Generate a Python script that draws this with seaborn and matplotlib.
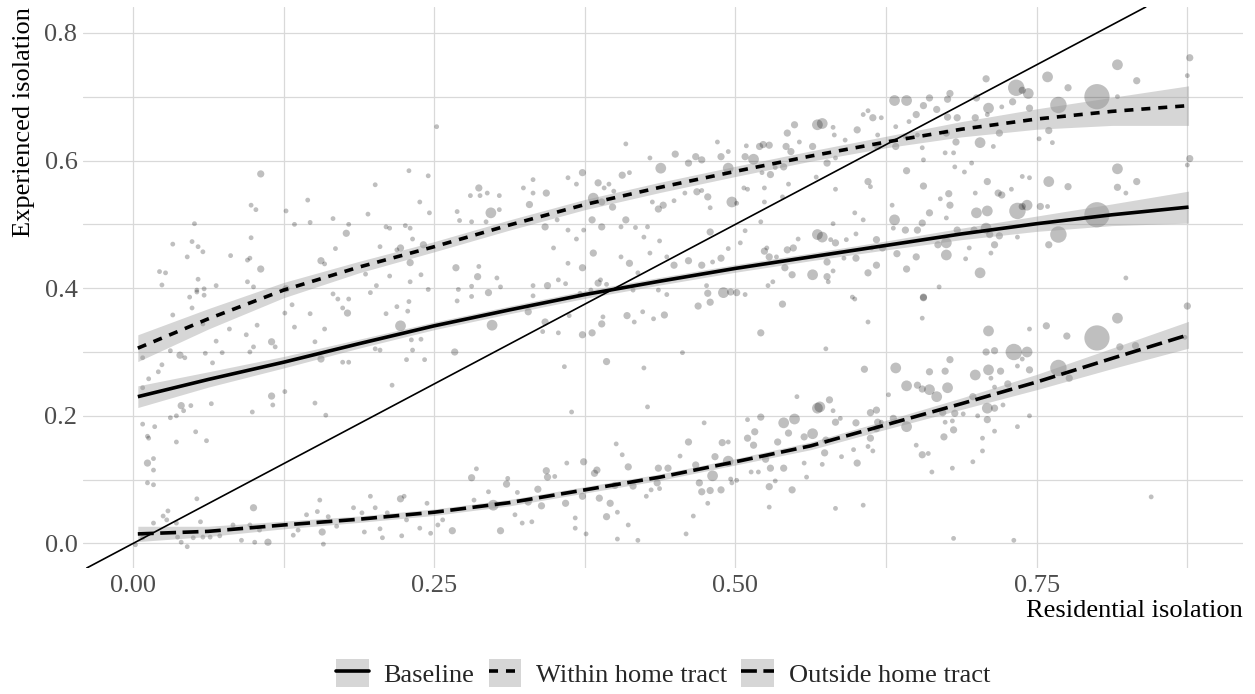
import numpy as np
import pandas as pd
import matplotlib
matplotlib.use("Agg")
import matplotlib.pyplot as plt
import seaborn as sns
from matplotlib.lines import Line2D
from matplotlib.patches import Patch

# ---------------- data ----------------
series_names = ["Baseline", "Within home tract", "Outside home tract"]
x_ticks = [0.0, 0.25, 0.5, 0.75]
x_tick_labels = ["0.00", "0.25", "0.50", "0.75"]
y_ticks = [0.0, 0.2, 0.4, 0.6, 0.8]
y_tick_labels = ["0.0", "0.2", "0.4", "0.6", "0.8"]
x_label = "Residential isolation"
y_label = "Experienced isolation"

# reference line (45 degree)
ref_intercept = 0.0
ref_slope = 1.0

# smoothed fits with confidence half-widths
fit_x = [0.004, 0.0625, 0.125, 0.1875, 0.25, 0.3125, 0.375, 0.4375, 0.5,
         0.5625, 0.625, 0.6875, 0.75, 0.8125, 0.876]
baseline_fit = [0.230, 0.257, 0.284, 0.313, 0.341, 0.366, 0.390, 0.411, 0.431,
                0.449, 0.467, 0.485, 0.501, 0.515, 0.527]
baseline_ci = [0.017, 0.012, 0.009, 0.007, 0.006, 0.006, 0.006, 0.006, 0.006,
               0.006, 0.007, 0.009, 0.012, 0.017, 0.025]
within_fit = [0.306, 0.352, 0.397, 0.433, 0.465, 0.499, 0.531, 0.558, 0.583,
              0.607, 0.629, 0.649, 0.665, 0.677, 0.686]
within_ci = [0.021, 0.016, 0.012, 0.009, 0.008, 0.008, 0.008, 0.008, 0.008,
             0.008, 0.009, 0.012, 0.016, 0.022, 0.031]
outside_fit = [0.015, 0.019, 0.029, 0.038, 0.049, 0.064, 0.084, 0.104, 0.128,
               0.153, 0.186, 0.219, 0.253, 0.290, 0.327]
outside_ci = [0.012, 0.008, 0.006, 0.005, 0.005, 0.005, 0.005, 0.005, 0.005,
              0.006, 0.007, 0.009, 0.012, 0.016, 0.021]

# tract points: (residential, experienced, weight class)
baseline_pts = [
    (0.008, 0.244, 1), (0.013, 0.258, 1), (0.008, 0.291, 1), (0.021, 0.269, 1), (0.024, 0.280, 1),
    (0.031, 0.302, 1), (0.039, 0.295, 2), (0.043, 0.291, 1), (0.060, 0.298, 1), (0.066, 0.283, 1),
    (0.069, 0.317, 1), (0.074, 0.299, 1), (0.094, 0.327, 1), (0.097, 0.300, 1), (0.100, 0.308, 1),
    (0.115, 0.316, 2), (0.118, 0.308, 1), (0.151, 0.316, 1), (0.156, 0.289, 2), (0.159, 0.336, 1),
    (0.174, 0.284, 1), (0.179, 0.284, 1), (0.201, 0.305, 1), (0.205, 0.303, 1), (0.210, 0.360, 1),
    (0.215, 0.248, 1), (0.219, 0.371, 1), (0.222, 0.341, 3), (0.229, 0.379, 1), (0.227, 0.288, 1),
    (0.231, 0.319, 1), (0.232, 0.303, 1),
    (0.008, 0.187, 1), (0.018, 0.183, 1), (0.012, 0.168, 1), (0.013, 0.165, 1), (0.012, 0.126, 2),
    (0.017, 0.133, 1), (0.017, 0.115, 1), (0.012, 0.095, 1), (0.017, 0.092, 1), (0.036, 0.159, 1),
    (0.031, 0.197, 1), (0.036, 0.200, 1), (0.040, 0.216, 2), (0.042, 0.208, 1), (0.048, 0.216, 1),
    (0.052, 0.175, 1), (0.061, 0.161, 1), (0.065, 0.219, 1), (0.099, 0.206, 1), (0.115, 0.231, 2),
    (0.116, 0.217, 1), (0.126, 0.238, 1), (0.151, 0.220, 1), (0.160, 0.201, 1),
    (0.286, 0.418, 2), (0.302, 0.416, 1), (0.245, 0.398, 1), (0.270, 0.398, 1), (0.281, 0.403, 1),
    (0.295, 0.393, 2), (0.305, 0.402, 1), (0.361, 0.439, 1), (0.373, 0.432, 2), (0.405, 0.449, 1),
    (0.412, 0.439, 2), (0.437, 0.474, 1), (0.429, 0.455, 1), (0.443, 0.449, 1), (0.449, 0.436, 2),
    (0.461, 0.443, 2), (0.472, 0.436, 2), (0.479, 0.488, 2), (0.481, 0.441, 1), (0.488, 0.447, 2),
    (0.494, 0.462, 1), (0.521, 0.504, 1), (0.508, 0.490, 1), (0.504, 0.471, 1),
    (0.524, 0.458, 2), (0.528, 0.449, 2), (0.526, 0.463, 1), (0.534, 0.449, 1), (0.543, 0.460, 2),
    (0.552, 0.477, 1), (0.548, 0.463, 2), (0.541, 0.432, 2), (0.547, 0.421, 2), (0.564, 0.421, 3),
    (0.568, 0.484, 3), (0.527, 0.404, 1), (0.531, 0.410, 1), (0.490, 0.393, 3), (0.496, 0.394, 2),
    (0.501, 0.393, 2), (0.508, 0.390, 1), (0.476, 0.404, 1), (0.477, 0.392, 2), (0.436, 0.397, 1),
    (0.443, 0.390, 1), (0.419, 0.424, 1), (0.415, 0.397, 1), (0.386, 0.408, 2), (0.393, 0.406, 1),
    (0.388, 0.413, 1), (0.380, 0.397, 1), (0.371, 0.392, 1), (0.359, 0.407, 1), (0.353, 0.413, 1),
    (0.344, 0.404, 2), (0.332, 0.404, 1), (0.332, 0.388, 1),
    (0.298, 0.342, 3), (0.267, 0.300, 2), (0.242, 0.288, 1), (0.228, 0.364, 1), (0.239, 0.320, 1),
    (0.269, 0.380, 1), (0.281, 0.387, 1), (0.328, 0.363, 2), (0.342, 0.347, 2), (0.340, 0.332, 1),
    (0.353, 0.330, 1), (0.358, 0.277, 1), (0.364, 0.206, 1), (0.362, 0.357, 1), (0.373, 0.327, 2),
    (0.381, 0.330, 2), (0.389, 0.344, 2), (0.390, 0.355, 1), (0.393, 0.285, 2), (0.410, 0.357, 2),
    (0.416, 0.347, 1), (0.423, 0.363, 1), (0.432, 0.352, 1), (0.441, 0.358, 2), (0.424, 0.275, 1),
    (0.427, 0.214, 1), (0.456, 0.299, 1), (0.469, 0.372, 2), (0.479, 0.378, 2), (0.521, 0.330, 2),
    (0.539, 0.375, 2),
    (0.817, 0.587, 3), (0.877, 0.603, 2), (0.875, 0.593, 1), (0.833, 0.567, 2), (0.817, 0.558, 2),
    (0.824, 0.549, 1), (0.800, 0.515, 5), (0.776, 0.559, 2), (0.768, 0.484, 4), (0.760, 0.567, 3),
    (0.760, 0.468, 2), (0.753, 0.528, 2), (0.759, 0.528, 1), (0.742, 0.530, 3), (0.734, 0.521, 4),
    (0.738, 0.528, 2), (0.744, 0.573, 1), (0.738, 0.575, 1), (0.729, 0.555, 1), (0.721, 0.546, 2),
    (0.718, 0.549, 2), (0.709, 0.521, 3), (0.700, 0.518, 3), (0.709, 0.567, 2), (0.699, 0.549, 1),
    (0.708, 0.494, 3), (0.711, 0.484, 2), (0.719, 0.482, 2), (0.715, 0.468, 2), (0.712, 0.455, 1),
    (0.703, 0.424, 3), (0.694, 0.463, 1), (0.691, 0.446, 1), (0.698, 0.491, 2), (0.684, 0.491, 2),
    (0.678, 0.530, 2), (0.677, 0.548, 2), (0.670, 0.540, 1), (0.675, 0.510, 1), (0.675, 0.452, 3),
    (0.675, 0.471, 3), (0.668, 0.468, 2), (0.669, 0.402, 1), (0.661, 0.518, 2), (0.655, 0.502, 2),
    (0.656, 0.560, 2), (0.651, 0.491, 2), (0.650, 0.449, 2), (0.656, 0.386, 2), (0.642, 0.430, 2),
    (0.641, 0.491, 2), (0.634, 0.454, 2), (0.632, 0.507, 3), (0.630, 0.530, 1), (0.631, 0.494, 1),
    (0.622, 0.463, 2), (0.617, 0.476, 2), (0.617, 0.436, 2), (0.610, 0.424, 2), (0.613, 0.463, 1),
    (0.606, 0.507, 1), (0.600, 0.485, 1), (0.599, 0.518, 1), (0.600, 0.447, 2), (0.597, 0.386, 1),
    (0.592, 0.476, 1), (0.590, 0.447, 1), (0.583, 0.471, 2), (0.581, 0.427, 1), (0.576, 0.441, 2),
    (0.576, 0.418, 2), (0.577, 0.410, 1), (0.572, 0.480, 3), (0.581, 0.501, 1), (0.579, 0.476, 1),
    (0.734, 0.480, 1), (0.824, 0.416, 1),
]

within_pts = [
    (0.033, 0.358, 1), (0.047, 0.386, 1), (0.053, 0.394, 1), (0.049, 0.369, 1), (0.058, 0.344, 1),
    (0.080, 0.336, 1), (0.103, 0.342, 1), (0.126, 0.361, 1), (0.132, 0.374, 1), (0.134, 0.339, 1),
    (0.147, 0.360, 1), (0.166, 0.391, 1), (0.170, 0.383, 1), (0.174, 0.369, 1), (0.178, 0.361, 2),
    (0.179, 0.383, 1), (0.197, 0.393, 1),
    (0.106, 0.579, 2), (0.098, 0.530, 1), (0.102, 0.523, 1), (0.127, 0.521, 1), (0.145, 0.538, 1),
    (0.134, 0.500, 1), (0.147, 0.503, 1), (0.166, 0.509, 1), (0.177, 0.486, 2), (0.179, 0.500, 1),
    (0.195, 0.516, 1), (0.201, 0.562, 1), (0.210, 0.496, 1), (0.213, 0.494, 1), (0.226, 0.498, 1),
    (0.229, 0.584, 1), (0.230, 0.494, 1), (0.222, 0.463, 2), (0.219, 0.460, 1), (0.205, 0.465, 1),
    (0.168, 0.462, 1), (0.156, 0.443, 2), (0.159, 0.438, 1), (0.051, 0.501, 1), (0.033, 0.469, 1),
    (0.049, 0.473, 1), (0.054, 0.465, 1), (0.058, 0.457, 1), (0.045, 0.449, 1), (0.098, 0.479, 1),
    (0.095, 0.444, 1), (0.097, 0.447, 1), (0.081, 0.451, 1), (0.106, 0.430, 2), (0.022, 0.426, 1),
    (0.027, 0.424, 1), (0.024, 0.405, 1), (0.054, 0.414, 1), (0.053, 0.397, 1), (0.059, 0.399, 1),
    (0.059, 0.389, 1), (0.069, 0.404, 1), (0.095, 0.410, 1), (0.100, 0.402, 1), (0.127, 0.399, 2),
    (0.202, 0.404, 1), (0.193, 0.422, 1), (0.213, 0.419, 1), (0.230, 0.410, 1), (0.232, 0.477, 1),
    (0.238, 0.535, 1),
    (0.252, 0.653, 1), (0.245, 0.576, 1), (0.246, 0.518, 1), (0.241, 0.468, 2), (0.230, 0.440, 2),
    (0.268, 0.432, 2), (0.287, 0.434, 1), (0.239, 0.421, 1), (0.287, 0.557, 2), (0.280, 0.545, 1),
    (0.288, 0.545, 1), (0.294, 0.549, 1), (0.304, 0.545, 1), (0.269, 0.520, 1), (0.271, 0.506, 1),
    (0.281, 0.504, 1), (0.293, 0.504, 1), (0.297, 0.518, 3), (0.304, 0.523, 1), (0.324, 0.557, 1),
    (0.332, 0.570, 1), (0.332, 0.549, 1), (0.343, 0.549, 2), (0.329, 0.531, 2), (0.342, 0.496, 2),
    (0.349, 0.463, 1), (0.352, 0.507, 1), (0.361, 0.573, 1), (0.368, 0.563, 1), (0.373, 0.581, 2),
    (0.381, 0.507, 2), (0.361, 0.491, 1), (0.368, 0.477, 1), (0.374, 0.491, 1), (0.382, 0.455, 2),
    (0.386, 0.565, 2), (0.391, 0.557, 1), (0.395, 0.563, 1), (0.399, 0.552, 1), (0.382, 0.541, 3),
    (0.389, 0.535, 2), (0.398, 0.527, 2), (0.406, 0.577, 2), (0.412, 0.581, 1), (0.409, 0.626, 1),
    (0.389, 0.496, 2), (0.405, 0.496, 1), (0.409, 0.507, 2), (0.417, 0.495, 1), (0.424, 0.480, 1),
    (0.429, 0.604, 1), (0.438, 0.588, 3), (0.450, 0.610, 2), (0.431, 0.535, 1), (0.436, 0.524, 2),
    (0.440, 0.530, 2), (0.449, 0.537, 1), (0.427, 0.496, 1), (0.467, 0.606, 2), (0.472, 0.601, 2),
    (0.461, 0.596, 2), (0.458, 0.549, 1), (0.468, 0.551, 2), (0.472, 0.553, 1), (0.477, 0.543, 2),
    (0.479, 0.526, 1), (0.485, 0.629, 1), (0.488, 0.606, 2), (0.494, 0.588, 3), (0.494, 0.614, 1),
    (0.497, 0.535, 3), (0.501, 0.533, 1), (0.508, 0.606, 2), (0.509, 0.623, 1), (0.515, 0.602, 3),
    (0.520, 0.622, 2), (0.523, 0.625, 2), (0.528, 0.624, 2), (0.522, 0.581, 1), (0.529, 0.578, 2),
    (0.533, 0.589, 1), (0.507, 0.557, 1), (0.510, 0.555, 1), (0.524, 0.557, 1), (0.524, 0.535, 1),
    (0.543, 0.643, 2), (0.549, 0.656, 2), (0.542, 0.622, 2), (0.546, 0.614, 2), (0.553, 0.629, 1),
    (0.564, 0.622, 2), (0.568, 0.656, 3), (0.540, 0.590, 2), (0.544, 0.563, 1), (0.539, 0.543, 1),
    (0.567, 0.574, 1),
    (0.817, 0.750, 3), (0.877, 0.761, 2), (0.875, 0.733, 1), (0.833, 0.725, 2), (0.817, 0.700, 1),
    (0.800, 0.700, 5), (0.776, 0.714, 2), (0.768, 0.687, 4), (0.759, 0.731, 3), (0.752, 0.634, 1),
    (0.760, 0.647, 2), (0.763, 0.628, 1), (0.744, 0.682, 2), (0.743, 0.705, 3), (0.733, 0.714, 4),
    (0.738, 0.710, 2), (0.730, 0.692, 2), (0.721, 0.684, 1), (0.719, 0.643, 2), (0.714, 0.622, 1),
    (0.708, 0.728, 2), (0.710, 0.682, 3), (0.709, 0.672, 1), (0.703, 0.628, 3), (0.699, 0.667, 2),
    (0.700, 0.698, 2), (0.684, 0.667, 2), (0.678, 0.705, 2), (0.676, 0.696, 2), (0.676, 0.668, 2),
    (0.675, 0.643, 2), (0.683, 0.629, 2), (0.674, 0.612, 1), (0.681, 0.612, 1), (0.667, 0.680, 2),
    (0.661, 0.698, 2), (0.656, 0.686, 2), (0.650, 0.672, 2), (0.642, 0.694, 3), (0.632, 0.694, 3),
    (0.644, 0.661, 1), (0.633, 0.653, 1), (0.633, 0.622, 2), (0.641, 0.637, 1), (0.651, 0.640, 1),
    (0.655, 0.620, 1), (0.618, 0.640, 1), (0.618, 0.622, 2), (0.614, 0.667, 2), (0.621, 0.667, 1),
    (0.606, 0.672, 1), (0.610, 0.678, 1), (0.601, 0.648, 2), (0.591, 0.632, 1), (0.582, 0.640, 1),
    (0.581, 0.652, 1), (0.572, 0.658, 3), (0.576, 0.596, 2), (0.583, 0.604, 1), (0.642, 0.584, 2),
    (0.656, 0.601, 1), (0.682, 0.590, 1), (0.690, 0.582, 1), (0.696, 0.596, 1), (0.610, 0.567, 2),
    (0.612, 0.559, 1), (0.583, 0.555, 1),
]

outside_pts = [
    (0.002, -0.002, 1), (0.008, 0.009, 1), (0.017, 0.032, 1), (0.025, 0.043, 1), (0.029, 0.051, 1),
    (0.028, 0.037, 1), (0.036, 0.032, 1), (0.037, 0.010, 1), (0.040, 0.002, 1), (0.045, -0.005, 1),
    (0.050, 0.009, 1), (0.053, 0.070, 1), (0.056, 0.034, 1), (0.058, 0.010, 1), (0.064, 0.010, 1),
    (0.072, 0.012, 1), (0.083, 0.029, 1), (0.090, 0.005, 1), (0.097, 0.029, 1), (0.100, 0.056, 2),
    (0.101, 0.002, 1), (0.112, 0.002, 2), (0.105, 0.021, 1), (0.133, 0.013, 1), (0.137, 0.021, 1),
    (0.144, 0.045, 1), (0.153, 0.050, 1), (0.155, 0.068, 1), (0.157, 0.018, 2), (0.158, -0.001, 1),
    (0.162, 0.042, 1), (0.169, 0.027, 1), (0.183, 0.056, 1), (0.190, 0.048, 1), (0.192, 0.018, 1),
    (0.197, 0.074, 1), (0.201, 0.056, 1), (0.205, 0.023, 1), (0.207, 0.009, 1), (0.211, 0.048, 1),
    (0.222, 0.070, 2), (0.225, 0.074, 1), (0.223, 0.012, 1), (0.227, 0.037, 1),
    (0.238, 0.024, 1), (0.247, 0.016, 1), (0.244, 0.063, 1), (0.257, 0.037, 1), (0.265, 0.020, 2),
    (0.253, 0.029, 1), (0.283, 0.068, 1), (0.281, 0.103, 2), (0.285, 0.117, 1), (0.295, 0.081, 1),
    (0.299, 0.060, 3), (0.305, 0.020, 2), (0.310, 0.093, 2), (0.311, 0.102, 1), (0.317, 0.045, 1),
    (0.319, 0.080, 1), (0.323, 0.032, 1), (0.331, 0.034, 1), (0.328, 0.065, 2), (0.336, 0.085, 2),
    (0.343, 0.114, 2), (0.344, 0.104, 2), (0.339, 0.059, 2), (0.350, 0.105, 1), (0.359, 0.063, 2),
    (0.360, 0.126, 1), (0.367, 0.040, 1), (0.367, 0.024, 1), (0.373, 0.074, 2), (0.374, 0.128, 2),
    (0.376, 0.015, 1), (0.383, 0.110, 2), (0.385, 0.115, 2), (0.387, 0.071, 2), (0.393, 0.042, 2),
    (0.396, 0.063, 2), (0.401, 0.156, 1), (0.402, 0.049, 1), (0.402, 0.007, 1), (0.400, 0.091, 2),
    (0.406, 0.139, 1), (0.411, 0.120, 2), (0.411, 0.029, 1), (0.415, 0.090, 2), (0.419, 0.005, 1),
    (0.426, 0.074, 1), (0.430, 0.084, 1), (0.435, 0.095, 2), (0.436, 0.118, 2), (0.437, 0.086, 1),
    (0.444, 0.118, 2), (0.454, 0.137, 1), (0.459, 0.015, 1), (0.461, 0.159, 2), (0.465, 0.043, 1),
    (0.467, 0.123, 2), (0.470, 0.095, 2), (0.472, 0.081, 2), (0.474, 0.189, 1), (0.477, 0.063, 1),
    (0.479, 0.083, 2), (0.481, 0.106, 3), (0.483, 0.136, 2), (0.488, 0.084, 2), (0.489, 0.158, 2),
    (0.494, 0.159, 1), (0.494, 0.129, 3), (0.496, 0.101, 1), (0.497, 0.095, 1), (0.501, 0.099, 1),
    (0.510, 0.194, 1), (0.510, 0.165, 2), (0.513, 0.112, 1), (0.515, 0.154, 2), (0.516, 0.175, 2),
    (0.521, 0.198, 2), (0.519, 0.112, 1), (0.525, 0.132, 2), (0.528, 0.089, 2), (0.528, 0.057, 1),
    (0.529, 0.118, 2), (0.533, 0.098, 1), (0.535, 0.159, 2), (0.540, 0.189, 3), (0.540, 0.118, 2),
    (0.544, 0.173, 2), (0.547, 0.084, 2), (0.549, 0.195, 3), (0.551, 0.230, 1), (0.557, 0.167, 2),
    (0.557, 0.126, 1), (0.559, 0.104, 1), (0.564, 0.172, 3), (0.568, 0.212, 3),
    (0.875, 0.372, 2), (0.873, 0.323, 1), (0.817, 0.353, 3), (0.800, 0.322, 5), (0.832, 0.310, 2),
    (0.819, 0.308, 2), (0.775, 0.325, 2), (0.758, 0.341, 2), (0.768, 0.275, 4), (0.777, 0.259, 2),
    (0.744, 0.336, 1), (0.742, 0.300, 3), (0.731, 0.300, 4), (0.738, 0.289, 1), (0.734, 0.278, 1),
    (0.744, 0.272, 2), (0.744, 0.200, 1), (0.734, 0.183, 1), (0.726, 0.250, 2), (0.720, 0.270, 2),
    (0.722, 0.217, 1), (0.715, 0.245, 1), (0.715, 0.176, 1), (0.710, 0.333, 3), (0.708, 0.300, 2),
    (0.715, 0.302, 2), (0.710, 0.272, 3), (0.699, 0.264, 3), (0.712, 0.259, 1), (0.709, 0.212, 3),
    (0.715, 0.212, 2), (0.709, 0.194, 2), (0.705, 0.165, 1), (0.705, 0.145, 1), (0.697, 0.128, 1),
    (0.701, 0.200, 1), (0.697, 0.230, 2), (0.678, 0.288, 2), (0.674, 0.270, 2), (0.676, 0.244, 3),
    (0.667, 0.230, 3), (0.661, 0.241, 3), (0.655, 0.242, 2), (0.651, 0.248, 2), (0.642, 0.247, 3),
    (0.633, 0.275, 3), (0.661, 0.269, 2), (0.656, 0.385, 2), (0.655, 0.353, 1), (0.610, 0.347, 1),
    (0.599, 0.383, 1), (0.575, 0.305, 1), (0.607, 0.273, 2), (0.627, 0.233, 1), (0.578, 0.225, 2),
    (0.570, 0.214, 3), (0.581, 0.208, 1), (0.583, 0.190, 2), (0.587, 0.196, 1), (0.600, 0.189, 2),
    (0.612, 0.205, 2), (0.617, 0.209, 2), (0.618, 0.190, 2), (0.621, 0.190, 1), (0.631, 0.196, 2),
    (0.642, 0.183, 3), (0.617, 0.180, 2), (0.612, 0.165, 2), (0.610, 0.152, 1), (0.614, 0.145, 1),
    (0.601, 0.126, 2), (0.598, 0.147, 1), (0.588, 0.136, 1), (0.575, 0.162, 2), (0.574, 0.142, 2),
    (0.572, 0.124, 1), (0.606, 0.060, 1), (0.583, 0.055, 1), (0.650, 0.154, 1), (0.655, 0.139, 2),
    (0.660, 0.141, 1), (0.663, 0.112, 1), (0.673, 0.167, 2), (0.674, 0.190, 1), (0.681, 0.178, 2),
    (0.680, 0.192, 1), (0.680, 0.118, 1), (0.681, 0.008, 1), (0.731, 0.005, 1), (0.845, 0.073, 1),
    (0.672, 0.205, 2), (0.682, 0.204, 2), (0.689, 0.203, 1),
]

weight_sizes = {1: 12, 2: 27, 3: 60, 4: 140, 5: 330}

# ---------------- style ----------------
sns.set_theme(style="white")
plt.rcParams['font.family'] = ['Liberation Serif', 'DejaVu Serif']
FS = 19
grid_col = "#d9d9d9"
band_col = "#999999"
key_col = "#d6d6d6"
line_w = 2.6

fig = plt.figure(figsize=(12.55, 6.94), dpi=100)
ax = fig.add_axes([83 / 1255, 1 - 568 / 694, 1160 / 1255, 561 / 694])

frames = []
for name, pts in zip(series_names, [baseline_pts, within_pts, outside_pts]):
    d = pd.DataFrame(pts, columns=["res", "exp", "w"])
    d["series"] = name
    frames.append(d)
points = pd.concat(frames, ignore_index=True)

sns.scatterplot(data=points, x="res", y="exp", size="w", sizes=weight_sizes,
                color="black", alpha=0.25, linewidth=0, legend=False, ax=ax)

fits = [(baseline_fit, baseline_ci, None),
        (within_fit, within_ci, (2.5, 2.2)),
        (outside_fit, outside_ci, (4.4, 1.8))]
fx = np.array(fit_x)
for fit, ci, dash in fits:
    f = np.array(fit)
    c = np.array(ci)
    ax.fill_between(fx, f - c, f + c, color=band_col, alpha=0.4, linewidth=0, zorder=3)

ax.axline((0, ref_intercept), slope=ref_slope, color="black", lw=1.2, zorder=4)

for fit, ci, dash in fits:
    sns.lineplot(x=fit_x, y=fit, color="black", lw=line_w, ax=ax, zorder=5)
    ln = ax.lines[-1]
    if dash is not None:
        ln.set_dashes(dash)
    ln.set_solid_capstyle("butt")
    ln.set_dash_capstyle("butt")

ax.set_xlim(-0.0415, 0.9212)
ax.set_ylim(-0.0384, 0.8405)
ax.set_xticks(x_ticks)
ax.set_xticklabels(x_tick_labels)
ax.set_yticks(y_ticks)
ax.set_yticklabels(y_tick_labels)
ax.set_xticks([0.125, 0.375, 0.625, 0.875], minor=True)
ax.set_yticks([0.1, 0.3, 0.5, 0.7], minor=True)
ax.grid(which="both", color=grid_col, lw=0.9)
ax.set_axisbelow(True)
for s in ax.spines.values():
    s.set_visible(False)
ax.tick_params(which="both", length=0, labelsize=FS, labelcolor="#4d4d4d")
ax.tick_params(axis="x", pad=5)
ax.tick_params(axis="y", pad=4)
ax.set_xlabel(x_label, fontsize=FS, loc="right", labelpad=2, color="black")
ax.set_ylabel(y_label, fontsize=FS, loc="top", labelpad=7, color="black")

handles = []
for fit, ci, dash in fits:
    ln = Line2D([], [], color="black", lw=line_w)
    if dash is not None:
        ln.set_dashes(dash)
    handles.append((Patch(facecolor=key_col, edgecolor="none"), ln))
fig.legend(handles, series_names, loc="center", bbox_to_anchor=(663 / 1255, 1 - 673 / 694),
           ncol=3, frameon=False, fontsize=FS, handlelength=1.24, handleheight=1.24,
           handletextpad=0.55, columnspacing=0.55, borderaxespad=0, borderpad=0)

fig.savefig("out.png", dpi=100)
